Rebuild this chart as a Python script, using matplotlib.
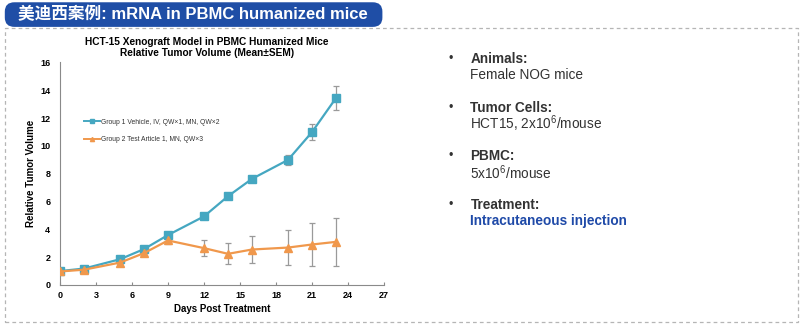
import matplotlib
matplotlib.use("Agg")
import matplotlib.pyplot as plt
from matplotlib.patches import FancyBboxPatch
from matplotlib.lines import Line2D

plt.rcParams['font.family'] = ['Liberation Sans', 'Noto Sans CJK SC', 'DejaVu Sans']
plt.rcParams['mathtext.fontset'] = 'custom'
plt.rcParams['mathtext.rm'] = 'Liberation Sans'
plt.rcParams['mathtext.default'] = 'regular'

# tumor volume data (relative to day 0)
days = [0, 2, 5, 7, 9, 12, 14, 16, 19, 21, 23]
vehicle_mean = [1.0, 1.18, 1.85, 2.58, 3.59, 4.93, 6.38, 7.63, 8.99, 10.99, 13.44]
vehicle_sem = [0.05, 0.07, 0.1, 0.12, 0.15, 0.12, 0.15, 0.2, 0.35, 0.6, 0.88]
test_mean = [0.97, 1.1, 1.61, 2.29, 3.2, 2.65, 2.24, 2.55, 2.69, 2.91, 3.1]
test_sem = [0.05, 0.06, 0.08, 0.1, 0.28, 0.55, 0.76, 1.0, 1.23, 1.52, 1.75]

group_labels = ["Group 1 Vehicle, IV, QW\u00d71, MN, QW\u00d72",
                "Group 2 Test Article 1, MN, QW\u00d73"]
x_ticks = [0, 3, 6, 9, 12, 15, 18, 21, 24, 27]
y_ticks = [0, 2, 4, 6, 8, 10, 12, 14, 16]

bullet_heads = ["Animals:", "Tumor Cells:", "PBMC:", "Treatment:"]
bullet_bodies = ["Female NOG mice", "HCT15, 2x10$^{6}$/mouse",
                 "5x10$^{6}$/mouse", "Intracutaneous injection"]

blue = '#45a7c1'
orange = '#f0984c'
err_gray = '#9a9a9a'

fig = plt.figure(figsize=(8, 3.24), dpi=100)

# dashed frame around the slide content
frame = plt.Rectangle((0.006, 0.007), 0.991, 0.906, transform=fig.transFigure,
                      fill=False, ec='#b5b5b5', lw=0.9, ls=(0, (3, 2.5)))
fig.add_artist(frame)

# title banner
banner = FancyBboxPatch((0.006, 0.917), 0.472, 0.076, transform=fig.transFigure,
                        boxstyle="round,pad=0,rounding_size=0.012",
                        fc='#1f4ea6', ec='none', mutation_aspect=2.4)
fig.add_artist(banner)
fig.text(0.241, 0.956, "美迪西案例: mRNA in PBMC humanized mice", color='white',
         fontsize=12, fontweight='bold', ha='center', va='center',
         family=['Liberation Sans', 'Noto Sans CJK SC', 'DejaVu Sans'])

ax = fig.add_axes([0.075, 0.1204, 0.405, 0.687])

ax.errorbar(days, vehicle_mean, yerr=vehicle_sem, color=blue, lw=1.6,
            marker='s', ms=6, ecolor=err_gray, elinewidth=0.9, capsize=2.2,
            capthick=0.9, zorder=3)
ax.errorbar(days, test_mean, yerr=test_sem, color=orange, lw=1.6,
            marker='^', ms=6, ecolor=err_gray, elinewidth=0.9, capsize=2.2,
            capthick=0.9, zorder=3)

ax.set_xlim(0, 27)
ax.set_ylim(0, 16)
ax.set_xticks(x_ticks)
ax.set_yticks(y_ticks)
for s in ['top', 'right']:
    ax.spines[s].set_visible(False)
for s in ['left', 'bottom']:
    ax.spines[s].set_color('#8a8a8a')
    ax.spines[s].set_linewidth(0.8)
ax.tick_params(axis='x', direction='in', length=2.5, color='#8a8a8a', labelsize=6.5, pad=4)
ax.tick_params(axis='y', direction='in', length=0, labelsize=6.5, pad=7)
for lab in ax.get_xticklabels() + ax.get_yticklabels():
    lab.set_fontweight('bold')

ax.set_xlabel("Days Post Treatment", fontsize=7, fontweight='bold', labelpad=3)
ax.set_ylabel("Relative Tumor Volume", fontsize=7, fontweight='bold', labelpad=3)
ax.set_title("HCT-15 Xenograft Model in PBMC Humanized Mice\nRelative Tumor Volume (Mean\u00b1SEM)",
             fontsize=7.3, fontweight='bold', linespacing=1.2, pad=4.5, x=0.454)

handles = [Line2D([], [], color=blue, lw=1.4, marker='s', ms=3),
           Line2D([], [], color=orange, lw=1.4, marker='^', ms=3)]
ax.legend(handles, group_labels, loc='upper left', bbox_to_anchor=(0.055, 0.775),
          frameon=False, fontsize=4.9, handlelength=2.3, handletextpad=0.15,
          labelspacing=1.6, labelcolor='#333333')

# study details list on the right
y0 = 0.818
for i, (head, body) in enumerate(zip(bullet_heads, bullet_bodies)):
    y = y0 - i * 0.1505
    fig.text(0.563, y, "\u2022", fontsize=9, color='#333333', ha='center', va='center')
    fig.text(0.588, y, head, fontsize=9.8, fontweight='bold', color='#333333', va='center')
    if i == 3:
        fig.text(0.588, y - 0.05, body, fontsize=9.8, fontweight='bold',
                 color='#1f4aa8', va='center')
    else:
        fig.text(0.588, y - 0.05, body, fontsize=9.8, color='#333333', va='center')

fig.savefig("out.png", dpi=100)
